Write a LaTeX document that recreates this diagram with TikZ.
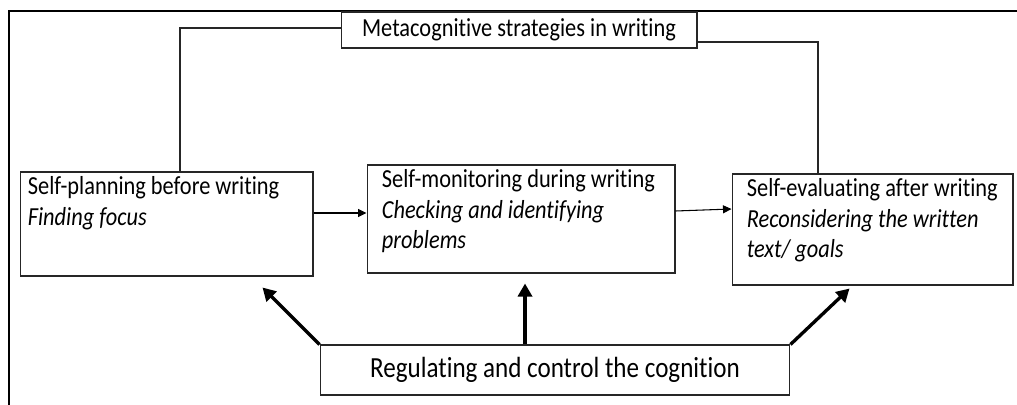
\documentclass[tikz,border=0pt]{standalone}
\usepackage{fontspec}
\setmainfont{Carlito}[Ligatures=NoCommon,FakeStretch=0.86]
\usetikzlibrary{arrows.meta,calc}

\tikzset{
    boxline/.style={draw=black!85,line width=0.6pt},
    stagebox/.style={boxline,rectangle,inner sep=0pt},
    stagetext/.style={anchor=north west,inner sep=0pt,align=left,
        font=\fontsize{14.8}{17.2}\selectfont},
    thinarrow/.style={line width=0.6pt,-{Triangle[length=0.17cm,width=0.16cm]}},
    thickarrow/.style={line width=1.9pt,-{Triangle[length=0.26cm,width=0.28cm]}},
}

\begin{document}
\begin{tikzpicture}[x=0.02cm,y=-0.02cm]
    \useasboundingbox (0,0) rectangle (1017,405);

    % outer frame, open at the right and the bottom
    \draw[line width=1.3pt] (9,405) -- (9,11) -- (1017,11);

    % headline box
    \node[stagebox,minimum width=7.12cm,minimum height=0.72cm,
        font=\fontsize{14.8}{17}\selectfont] (meta) at (519,30)
        {Metacognitive strategies in writing};

    % the three stages
    \node[stagebox,minimum width=5.86cm,minimum height=2.08cm] (plan) at (166.5,224) {};
    \node[stagebox,minimum width=6.16cm,minimum height=2.16cm] (mon) at (521,219) {};
    \node[stagebox,minimum width=5.62cm,minimum height=2.22cm] (eval) at (872.5,229.5) {};

    \node[stagetext] (plantext) at ($(plan.north west)+(8,5)$)
        {Self-planning before writing\\\textit{Finding focus}};
    \node[stagetext] (montext) at ($(mon.north west)+(15,5)$)
        {Self-monitoring during writing\\\textit{Checking and identifying}\\\textit{problems}};
    \node[stagetext] (evaltext) at ($(eval.north west)+(15,5)$)
        {Self-evaluating after writing\\\textit{Reconsidering the written}\\\textit{text/ goals}};

    % regulating box at the bottom
    \node[stagebox,minimum width=9.4cm,minimum height=1.0cm,
        font=\fontsize{16.6}{18}\selectfont] (reg) at (555,370)
        {Regulating and control the cognition};

    % headline down to the outer stages
    \draw[boxline] (meta.west |- 0,28) -| (plan.north -| 180,0);
    \draw[boxline] (meta.east |- 0,42) -| (eval.north -| 818,0);

    % stage to stage
    \draw[thinarrow] (plan.east |- 0,213) -- (mon.west |- 0,213);
    \draw[thinarrow] (mon.east |- 0,211) -- (eval.west |- 0,209);

    % regulation acts on every stage
    \draw[thickarrow] (reg.north west) -- ($(plan.south east)+(-51,11)$);
    \draw[thickarrow] (reg.north -| 525,0) -- ($(mon.south)+(4,10)$);
    \draw[thickarrow] (reg.north east) -- ($(eval.south west)+(118,3)$);
\end{tikzpicture}
\end{document}
